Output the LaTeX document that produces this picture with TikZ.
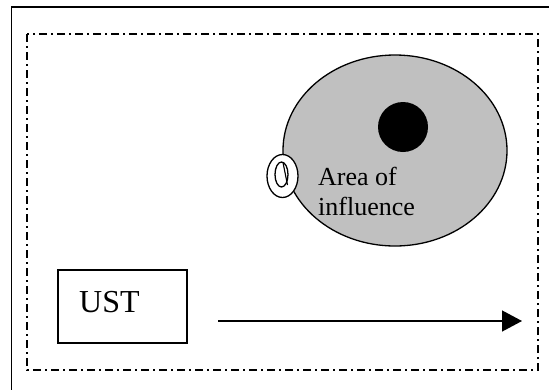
\documentclass[tikz,border=0pt]{standalone}
\usepackage{fontspec}
\setmainfont{Liberation Serif}
\usetikzlibrary{shapes.geometric,arrows.meta}
\definecolor{areagray}{HTML}{C0C0C0}
\tikzset{
  frameline/.style={line width=1.5pt},
  dashdotline/.style={line width=1.2pt,dash pattern=on 8pt off 4pt on 2pt off 4pt},
  areaell/.style={ellipse,draw,line width=1.3pt,fill=areagray,inner sep=0pt},
  ringell/.style={ellipse,draw,line width=1.3pt,fill=white,inner sep=0pt},
  dotcirc/.style={circle,fill=black,inner sep=0pt,minimum size=50pt},
  labeltext/.style={inner sep=0pt,anchor=base west,font=\fontsize{26}{30}\selectfont},
  ustbox/.style={draw,line width=1.3pt,inner sep=0pt,minimum width=129pt,minimum height=73pt},
  ustlabel/.style={inner sep=0pt,anchor=base west,font=\fontsize{32}{36}\selectfont},
  flowarrow/.style={line width=1.3pt,-{Triangle[length=20pt,width=21pt]}}
}
\begin{document}
\begin{tikzpicture}[x=1pt,y=-1pt]
\useasboundingbox (0,0) rectangle (549,389);
\fill[white] (0,0) rectangle (549,389);
% outer frame (runs off the page on right and bottom)
\draw[frameline] (11.5,420) -- (11.5,7) -- (580,7);
% dash-dot boundary
\draw[dashdotline] (27,34) rectangle (538,370);
% area of influence
\node[areaell,minimum width=224pt,minimum height=191pt] (area) at (395,150.5) {};
\node[dotcirc] (dot) at (403,127) {};
\node[ringell,minimum width=31pt,minimum height=43pt] (ring) at (282.5,176) {};
\node[ellipse,draw,line width=1.3pt,inner sep=0pt,minimum width=13pt,minimum height=25pt] (inner) at (281.5,174.5) {};
\coordinate (sa) at (283,162.5);
\coordinate (sb) at (287.5,185);
\draw[line width=1.1pt] (sa) -- (sb);
\node[labeltext] (lab1) at (318,185) {Area of};
\node[labeltext] (lab2) at (318,215) {influence};
% UST
\node[ustbox] (ust) at (122.5,306.5) {};
\node[ustlabel] (ustt) at (79,312) {UST};
\coordinate (as) at (218,321);
\coordinate (ae) at (522,321);
\draw[flowarrow] (as) -- (ae);
\end{tikzpicture}
\end{document}
